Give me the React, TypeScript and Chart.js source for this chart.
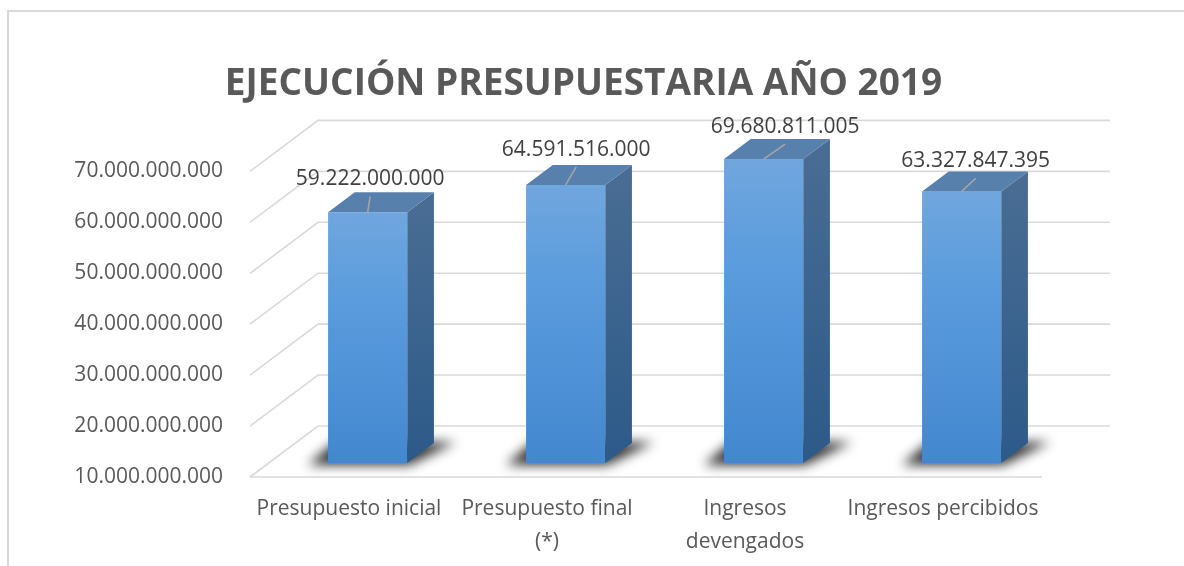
import React, { useEffect, useRef } from 'react';
import { Chart, registerables } from 'chart.js';

Chart.register(...registerables);

// ---- data ----
const chartTitle = 'EJECUCIÓN PRESUPUESTARIA AÑO 2019';
const categories: (string | string[])[] = [
  'Presupuesto inicial',
  ['Presupuesto final', '(*)'],
  ['Ingresos', 'devengados'],
  'Ingresos percibidos',
];
const values: number[] = [59222000000, 64591516000, 69680811005, 63327847395];
const yMin = 10000000000;
const yMax = 70000000000;
const yStep = 10000000000;

// ---- style ----
const FONT = '"Open Sans", "Noto Sans", sans-serif';
const DEPTH_DX = 68;
const DEPTH_DY = -51;
const BAR_FRONT = 14 / 51;
const BAR_BACK = 34 / 51;
const labelShiftX = [2.5, 10.5, 21.5, 14];
const labelShiftY = [-33, -35, -32, -30];

const fmt = (v: number) => Math.round(v).toString().replace(/\B(?=(\d{3})+(?!\d))/g, '.');

const threeD = {
  id: 'threeD',
  beforeDatasetsDraw(chart: any) {
    const { ctx, chartArea, scales } = chart;
    const { left, right, bottom } = chartArea;
    const y = scales.y;
    ctx.save();
    ctx.strokeStyle = '#d9d9d9';
    ctx.lineWidth = 1.6;
    y.ticks.forEach((t: any) => {
      const py = y.getPixelForValue(t.value);
      ctx.beginPath();
      ctx.moveTo(left, py);
      ctx.lineTo(left + DEPTH_DX, py + DEPTH_DY);
      ctx.lineTo(right + DEPTH_DX, py + DEPTH_DY);
      ctx.stroke();
    });
    ctx.beginPath();
    ctx.moveTo(left, bottom);
    ctx.lineTo(right, bottom);
    ctx.stroke();
    ctx.restore();
  },
  afterDatasetsDraw(chart: any) {
    const { ctx, scales } = chart;
    const meta = chart.getDatasetMeta(0);
    const fdx = DEPTH_DX * BAR_FRONT;
    const fdy = DEPTH_DY * BAR_FRONT;
    const sdx = DEPTH_DX * (BAR_BACK - BAR_FRONT);
    const sdy = DEPTH_DY * (BAR_BACK - BAR_FRONT);
    const basePx = scales.y.getPixelForValue(yMin);
    meta.data.forEach((bar: any, i: number) => {
      const { x, y, width } = bar.getProps(['x', 'y', 'width'], true);
      const l = x - width / 2 + fdx;
      const r = x + width / 2 + fdx;
      const top = y + fdy;
      const bot = basePx + fdy;

      // soft shadow on the floor
      ctx.save();
      ctx.filter = 'blur(6px)';
      ctx.fillStyle = 'rgba(0,0,0,0.8)';
      ctx.beginPath();
      ctx.moveTo(l - 20, bot + 2);
      ctx.lineTo(r + 2, bot + 2);
      ctx.lineTo(r + sdx + 22, bot + sdy - 1);
      ctx.lineTo(l + sdx - 20, bot + sdy - 1);
      ctx.closePath();
      ctx.fill();
      ctx.restore();

      ctx.save();
      // front face
      const g = ctx.createLinearGradient(0, top, 0, bot);
      g.addColorStop(0, '#70a6de');
      g.addColorStop(0.35, '#5a9cdd');
      g.addColorStop(1, '#4387cf');
      ctx.fillStyle = g;
      ctx.fillRect(l, top, r - l, bot - top);

      // side face
      const gs = ctx.createLinearGradient(0, top, 0, bot);
      gs.addColorStop(0, '#486c93');
      gs.addColorStop(1, '#2c5a89');
      ctx.fillStyle = gs;
      ctx.beginPath();
      ctx.moveTo(r, top);
      ctx.lineTo(r + sdx, top + sdy);
      ctx.lineTo(r + sdx, bot + sdy);
      ctx.lineTo(r, bot);
      ctx.closePath();
      ctx.fill();

      // top face
      ctx.fillStyle = '#5880ac';
      ctx.beginPath();
      ctx.moveTo(l, top);
      ctx.lineTo(r, top);
      ctx.lineTo(r + sdx, top + sdy);
      ctx.lineTo(l + sdx, top + sdy);
      ctx.closePath();
      ctx.fill();

      // label + leader line
      const cx = (l + r) / 2;
      const lx = cx + labelShiftX[i];
      const ly = top + labelShiftY[i];
      ctx.strokeStyle = '#a6a6a6';
      ctx.lineWidth = 1.5;
      ctx.beginPath();
      ctx.moveTo(cx, top);
      ctx.lineTo(lx, ly + 17);
      ctx.stroke();

      ctx.fillStyle = '#404040';
      ctx.font = '21px ' + FONT;
      ctx.textAlign = 'center';
      ctx.textBaseline = 'middle';
      ctx.fillText(fmt(values[i]), lx, ly);
      ctx.restore();
    });
  },
};

export default function App() {
  const ref = useRef<HTMLCanvasElement | null>(null);
  useEffect(() => {
    if (!ref.current) return;
    const chart = new Chart(ref.current, {
      type: 'bar',
      data: {
        labels: categories as any,
        datasets: [
          {
            data: values,
            backgroundColor: 'rgba(0,0,0,0)',
            borderWidth: 0,
            barPercentage: 0.4,
            categoryPercentage: 1,
          },
        ],
      },
      options: {
        responsive: false,
        animation: false,
        devicePixelRatio: 1,
        layout: { padding: { left: 0, right: 17, top: 0, bottom: 0 } },
        plugins: {
          legend: { display: false },
          tooltip: { enabled: false },
          title: {
            display: true,
            text: chartTitle,
            color: '#595959',
            font: { family: FONT, size: 37, weight: 'bold', lineHeight: 1.2 },
            padding: { top: 62, bottom: 65 },
          },
        },
        scales: {
          x: {
            grid: { display: false },
            border: { display: false },
            ticks: {
              color: '#595959',
              font: { family: FONT, size: 21, lineHeight: 1.55 },
              padding: 8,
              maxRotation: 0,
              autoSkip: false,
            },
            afterFit: (s: any) => {
              s.height = 89;
            },
          },
          y: {
            min: yMin,
            max: yMax,
            grid: { display: false },
            border: { display: false },
            ticks: {
              stepSize: yStep,
              color: '#595959',
              font: { family: FONT, size: 21 },
              padding: 19,
              callback: (v: any) => fmt(Number(v)),
            },
            afterFit: (s: any) => {
              s.width = 250;
            },
          },
          y2: {
            type: 'linear',
            position: 'right',
            display: true,
            grid: { display: false },
            border: { display: false },
            ticks: { display: false },
            afterFit: (s: any) => {
              s.width = 125;
            },
          },
        },
      },
      plugins: [threeD],
    } as any);
    return () => chart.destroy();
  }, []);

  return (
    <div>
      <div
        style={{
          position: 'fixed',
          left: 7,
          top: 10,
          width: 2000,
          height: 2000,
          borderLeft: '2px solid #d9d9d9',
          borderTop: '2px solid #d9d9d9',
          boxSizing: 'border-box',
        }}
      />
      <canvas
        ref={ref}
        width={1184}
        height={566}
        style={{ position: 'fixed', left: 0, top: 0, display: 'block', width: 1184, height: 566 }}
      />
    </div>
  );
}
